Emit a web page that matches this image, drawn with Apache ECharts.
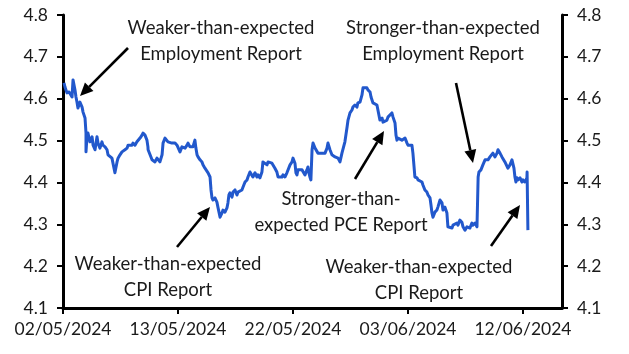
<!DOCTYPE html>
<html>
<head>
<meta charset="utf-8">
<script src="https://cdn.jsdelivr.net/npm/echarts@6/dist/echarts.min.js"></script>
<style>html,body{margin:0;padding:0;background:#fff}#c{width:629px;height:354px}</style>
</head>
<body>
<div id="c"></div>
<script>
// Trading-day index (0 = 02/05/2024), fractional within day
const dayPos = [
0.06,0.12,0.24,0.37,0.55,0.61,0.73,0.79,0.85,0.91,1.03,1.16,1.22,1.34,1.40,1.40,1.46,1.52,1.64,1.77,1.83,1.95,2.07,2.13,2.25,2.37,2.43,2.56,2.68,2.74,2.86,2.98,3.04,3.16,3.29,3.35,3.47,3.59,3.65,3.77,3.90,3.96,4.08,4.20,4.26,4.38,4.50,4.56,4.69,4.81,4.87,4.99,5.11,5.17,5.18,5.30,5.42,5.48,5.60,5.72,5.78,
5.90,6.03,6.09,6.21,6.33,6.39,6.51,6.63,6.70,6.82,6.94,7.00,7.12,7.24,7.30,7.43,7.55,7.61,7.73,7.85,7.91,8.03,8.09,8.16,8.22,8.34,8.46,8.52,8.64,8.76,8.83,8.95,9.01,9.07,9.13,9.25,9.37,9.43,9.56,9.68,9.74,9.86,9.98,10.04,10.10,10.16,10.29,10.35,10.47,10.59,10.65,10.77,10.89,10.96,11.08,11.20,11.26,11.38,11.50,
11.56,11.69,11.81,11.87,11.99,12.11,12.17,12.29,12.42,12.48,12.60,12.72,12.78,12.90,13.02,13.09,13.21,13.33,13.39,13.51,13.63,13.69,13.82,13.94,14.00,14.12,14.18,14.24,14.30,14.42,14.55,14.61,14.73,14.85,14.91,14.97,15.03,15.09,15.16,15.22,15.34,15.46,15.52,15.64,15.76,15.82,15.95,16.07,16.13,16.25,16.37,16.43,16.56,16.68,16.74,16.86,16.98,17.04,17.16,17.29,
17.35,17.47,17.59,17.65,17.77,17.89,17.95,18.08,18.20,18.26,18.38,18.50,18.56,18.69,18.75,18.81,18.87,18.99,19.11,19.17,19.29,19.42,19.48,19.60,19.72,19.78,19.90,20.02,20.09,20.21,20.27,20.33,20.39,20.51,20.63,20.69,20.82,20.94,21.00,21.12,21.24,21.30,21.42,21.55,21.61,21.73,21.85,21.91,22.03,22.15,22.22,22.34,22.40,22.46,22.52,22.64,22.76,22.82,
22.95,23.07,23.13,23.25,23.37,23.43,23.55,23.68,23.74,23.86,23.98,24.04,24.16,24.28,24.35,24.47,24.59,24.65,24.77,24.89,24.95,25.08,25.20,25.26,25.27,25.32,25.44,25.50,25.56,25.69,25.81,25.87,25.99,26.11,26.17,26.29,26.42,26.48,26.60,26.72,26.78,26.90,27.02,27.08,27.21,27.33,27.39,27.45,27.51,27.57,27.63,27.69,27.82,27.94,28.00,28.12,28.24,28.25,28.30
];
// 10-year yield (%)
const yields = [
4.638,4.628,4.614,4.616,4.604,4.645,4.621,4.604,4.592,4.578,4.592,4.580,4.568,4.554,4.518,4.473,4.509,4.518,4.497,4.509,4.489,4.478,4.509,4.494,4.482,4.497,4.489,4.485,4.478,4.466,4.470,4.458,4.454,4.423,4.449,4.458,4.466,4.473,4.470,4.478,4.482,4.489,4.485,4.489,4.494,4.489,4.497,4.501,4.506,4.513,4.518,4.513,4.501,4.485,4.478,4.466,4.454,4.458,4.449,4.458,4.454,
4.449,4.466,4.494,4.506,4.509,4.497,4.501,4.494,4.497,4.494,4.489,4.485,4.473,4.485,4.489,4.482,4.489,4.494,4.485,4.482,4.485,4.501,4.482,4.466,4.461,4.454,4.449,4.442,4.434,4.430,4.423,4.413,4.382,4.363,4.358,4.363,4.353,4.341,4.317,4.327,4.334,4.329,4.339,4.351,4.370,4.375,4.365,4.377,4.382,4.370,4.377,4.375,4.382,4.389,4.401,4.406,4.413,4.425,4.423,
4.413,4.423,4.413,4.418,4.411,4.425,4.449,4.446,4.442,4.449,4.449,4.446,4.442,4.434,4.425,4.413,4.411,4.413,4.418,4.413,4.423,4.425,4.442,4.449,4.458,4.446,4.423,4.418,4.430,4.434,4.430,4.434,4.418,4.430,4.437,4.423,4.413,4.406,4.478,4.494,4.482,4.478,4.470,4.466,4.470,4.466,4.470,4.482,4.494,4.478,4.466,4.466,4.461,4.458,4.458,4.449,4.470,4.473,4.497,4.532,
4.549,4.566,4.573,4.580,4.585,4.580,4.590,4.592,4.609,4.626,4.628,4.626,4.621,4.616,4.604,4.602,4.590,4.592,4.585,4.573,4.549,4.554,4.544,4.542,4.549,4.556,4.561,4.566,4.556,4.542,4.513,4.501,4.506,4.509,4.501,4.497,4.506,4.494,4.489,4.485,4.489,4.470,4.413,4.411,4.406,4.406,4.401,4.394,4.382,4.377,4.370,4.363,4.346,4.327,4.317,4.329,4.334,4.341,
4.358,4.351,4.334,4.341,4.327,4.294,4.298,4.291,4.298,4.294,4.303,4.298,4.310,4.305,4.294,4.286,4.294,4.298,4.291,4.303,4.298,4.303,4.294,4.291,4.413,4.425,4.430,4.434,4.442,4.454,4.458,4.454,4.461,4.458,4.470,4.461,4.470,4.478,4.470,4.461,4.458,4.449,4.446,4.434,4.442,4.454,4.458,4.434,4.413,4.401,4.411,4.406,4.411,4.401,4.406,4.401,4.411,4.425,4.286
];
const tickPos = [0, 7, 14, 21, 28];
const tickLabels = ['02/05/2024', '13/05/2024', '22/05/2024', '03/06/2024', '12/06/2024'];
const xMax = 30.375;
const yMin = 4.1, yMax = 4.8, yStep = 0.1;

const annotations = [
  { text: 'Weaker-than-expected\nEmployment Report', x: 221, y: 41, from: [128, 48], to: [80, 96] },
  { text: 'Stronger-than-expected\nEmployment Report', x: 443, y: 41, from: [456, 83], to: [473, 163] },
  { text: 'Stronger-than-\nexpected PCE Report', x: 341, y: 212, from: [355, 179], to: [384, 131] },
  { text: 'Weaker-than-expected\nCPI Report', x: 168, y: 277, from: [177, 247], to: [210, 207] },
  { text: 'Weaker-than-expected\nCPI Report', x: 419, y: 280, from: [491, 246], to: [520, 205] }
];

const FONT = 'Lato';
const graphics = [];
annotations.forEach(a => {
  graphics.push({
    type: 'text', x: a.x, y: a.y, z: 10,
    style: { text: a.text, font: '18.5px ' + FONT, fill: '#1a1a1a', align: 'center', verticalAlign: 'middle', lineHeight: 26 }
  });
  const [x1, y1] = a.from, [x2, y2] = a.to;
  const ang = Math.atan2(y2 - y1, x2 - x1);
  const L = 13, W = 6;
  const bx = x2 - L * Math.cos(ang), by = y2 - L * Math.sin(ang);
  graphics.push({ type: 'line', z: 10, shape: { x1, y1, x2: bx, y2: by }, style: { stroke: '#000', lineWidth: 2.6 } });
  graphics.push({
    type: 'polygon', z: 10,
    shape: { points: [[x2, y2], [bx + W * Math.sin(ang), by - W * Math.cos(ang)], [bx - W * Math.sin(ang), by + W * Math.cos(ang)]] },
    style: { fill: '#000' }
  });
});

const yAxisCommon = {
  type: 'value', min: yMin, max: yMax, interval: yStep,
  splitLine: { show: false },
  axisLine: { show: true, onZero: false, lineStyle: { color: '#000', width: 3 } },
  axisTick: { show: true, inside: false, length: 6, lineStyle: { color: '#000', width: 2 } },
  axisLabel: { color: '#1a1a1a', fontFamily: FONT, fontSize: 17.5, margin: 15, formatter: v => v.toFixed(1) }
};

const chart = echarts.init(document.getElementById('c'), null, { renderer: 'canvas' });
chart.setOption({
  animation: false,
  grid: { left: 63, right: 67, top: 15, bottom: 46, containLabel: false },
  xAxis: {
    type: 'value', min: 0, max: xMax,
    splitLine: { show: false },
    axisLine: { show: true, onZero: false, lineStyle: { color: '#000', width: 3 } },
    axisTick: { show: true, length: 6, lineStyle: { color: '#000', width: 2 }, customValues: tickPos },
    axisLabel: {
      color: '#1a1a1a', fontFamily: FONT, fontSize: 17.5, margin: 12, customValues: tickPos,
      formatter: v => { const i = tickPos.indexOf(v); return i >= 0 ? tickLabels[i] : ''; }
    }
  },
  yAxis: [
    Object.assign({}, yAxisCommon, { position: 'left' }),
    Object.assign({}, yAxisCommon, { position: 'right' })
  ],
  series: [{
    type: 'line', yAxisIndex: 0, showSymbol: false, symbol: 'none',
    lineStyle: { color: '#2258cc', width: 3, join: 'round' },
    data: dayPos.map((d, i) => [d, yields[i]])
  }],
  graphic: graphics
});
</script>
</body>
</html>
